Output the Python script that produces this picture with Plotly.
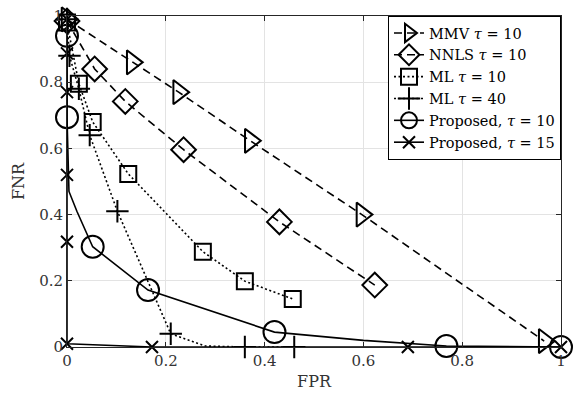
import plotly.graph_objects as go

# ---- data ----
mmv_x = [0.0, 0.132, 0.226, 0.371, 0.597, 0.966]
mmv_y = [0.99, 0.86, 0.77, 0.623, 0.40, 0.018]

nnls_x = [0.0, 0.056, 0.118, 0.236, 0.43, 0.623]
nnls_y = [0.985, 0.84, 0.742, 0.596, 0.378, 0.187]

ml10_x = [0.0, 0.024, 0.052, 0.124, 0.275, 0.36, 0.457]
ml10_y = [0.98, 0.795, 0.68, 0.523, 0.288, 0.199, 0.145]

ml40_x = [0.0, 0.005, 0.024, 0.046, 0.102, 0.21, 0.28, 0.36, 0.46]
ml40_y = [0.99, 0.88, 0.78, 0.64, 0.41, 0.04, 0.003, 0.0, 0.0]
ml40_marked = [1, 1, 1, 1, 1, 1, 0, 1, 1]

p10_x = [0.0, 0.0, 0.004, 0.02, 0.052, 0.164, 0.42, 0.60, 0.768, 1.0]
p10_y = [0.94, 0.694, 0.47, 0.41, 0.303, 0.172, 0.045, 0.02, 0.003, 0.0]
p10_marked = [1, 1, 0, 0, 1, 1, 1, 0, 1, 1]

p15_x = [0.0, 0.0, 0.0, 0.0, 0.0, 0.0, 0.172, 0.69, 1.0]
p15_y = [0.99, 0.887, 0.77, 0.52, 0.318, 0.01, 0.0, 0.0, 0.0]

x_ticks = [0, 0.2, 0.4, 0.6, 0.8, 1]
x_tick_labels = ["0", "0.2", "0.4", "0.6", "0.8", "1"]
y_ticks = [0, 0.2, 0.4, 0.6, 0.8, 1]
y_tick_labels = ["0", "0.2", "0.4", "0.6", "0.8", "1"]

names = ["MMV <i>τ</i> = 10", "NNLS <i>τ</i> = 10", "ML <i>τ</i> = 10",
         "ML <i>τ</i> = 40", "Proposed, <i>τ</i> = 10", "Proposed, <i>τ</i> = 15"]

FONT = "DejaVu Serif"
LW = 1.6

fig = go.Figure()


def add(x, y, name, symbol, size, dash, marked=None):
    colors = "black" if marked is None else ["black" if m else "rgba(0,0,0,0)" for m in marked]
    fig.add_trace(go.Scatter(
        x=x, y=y, name=name, mode="lines+markers", cliponaxis=False,
        line=dict(color="black", width=LW, dash=dash),
        marker=dict(symbol=symbol, size=size, color=colors,
                    line=dict(width=2)),
    ))


add(mmv_x, mmv_y, names[0], "triangle-right-open", 21, "8px,5px")
add(nnls_x, nnls_y, names[1], "diamond-open", 19, "8px,5px")
add(ml10_x, ml10_y, names[2], "square-open", 16, "2px,2.5px")
add(ml40_x, ml40_y, names[3], "cross-thin-open", 16, "2px,2.5px", ml40_marked)
add(p10_x, p10_y, names[4], "circle-open", 22, "solid", p10_marked)
add(p15_x, p15_y, names[5], "x-thin-open", 12, "solid")

axis_common = dict(
    showgrid=True, gridcolor="#e3e3e3", gridwidth=1,
    zeroline=False, showline=True, linecolor="#262626", linewidth=1,
    mirror="ticks", ticks="inside", ticklen=5, tickcolor="#262626",
    tickfont=dict(family=FONT, size=15, color="#333333"),
    range=[0, 1],
)

fig.update_xaxes(**axis_common, tickvals=x_ticks, ticktext=x_tick_labels,
                 title=dict(text="FPR", font=dict(family=FONT, size=16, color="#333333"),
                            standoff=6))
fig.update_yaxes(**axis_common, tickvals=y_ticks, ticktext=y_tick_labels,
                 title=dict(text="FNR", font=dict(family=FONT, size=16, color="#333333"),
                            standoff=10))

fig.update_layout(
    width=573, height=405,
    margin=dict(l=67, r=7, t=10, b=58),
    plot_bgcolor="white", paper_bgcolor="white",
    font=dict(family=FONT, color="black"),
    legend=dict(x=1, y=1, xanchor="right", yanchor="top",
                bgcolor="white", bordercolor="black", borderwidth=1,
                font=dict(family=FONT, size=14.5, color="black"),
                tracegroupgap=0, itemwidth=30),
    showlegend=True,
)

fig.write_html("out.html")
